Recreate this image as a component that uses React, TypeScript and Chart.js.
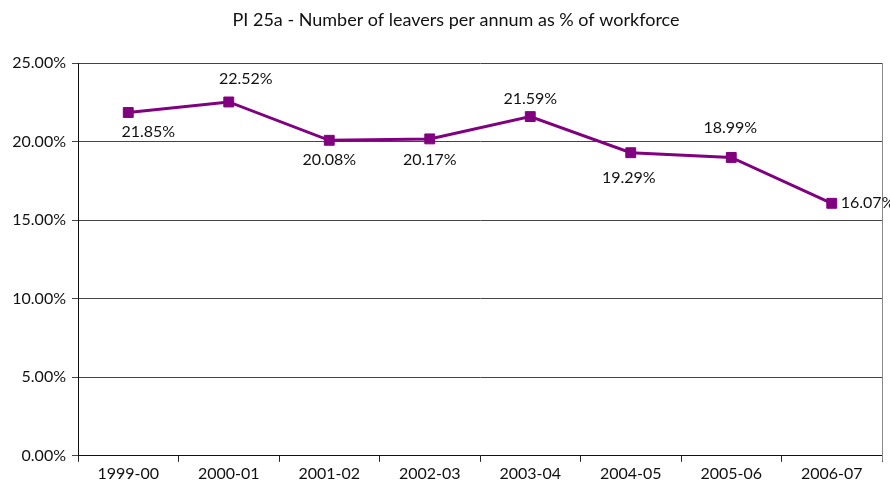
import React, { useEffect, useRef } from "react";
import { Chart, registerables } from "chart.js";

Chart.register(...registerables);

const TITLE = "PI 25a - Number of leavers per annum as % of workforce";
const categories = ["1999-00", "2000-01", "2001-02", "2002-03", "2003-04", "2004-05", "2005-06", "2006-07"];
const leaversPct = [21.85, 22.52, 20.08, 20.17, 21.59, 19.29, 18.99, 16.07];
const yTicks = [0, 5, 10, 15, 20, 25];

// label placement relative to each point (style config)
const labelPlacement = [
  { dx: 20, dy: 19, align: "center" },
  { dx: 17, dy: -23, align: "center" },
  { dx: 0, dy: 20, align: "center" },
  { dx: 0, dy: 21, align: "center" },
  { dx: 0, dy: -18, align: "center" },
  { dx: -2, dy: 25, align: "center" },
  { dx: -1, dy: -30, align: "center" },
  { dx: 9, dy: 0, align: "left" },
];

const FONT = "Lato, 'Noto Sans', sans-serif";

export default function App() {
  const ref = useRef<HTMLCanvasElement>(null);
  useEffect(() => {
    const canvas = ref.current!;
    const extras = {
      id: "extras",
      afterDraw(chart: any) {
        const ctx = chart.ctx;
        const area = chart.chartArea;
        ctx.save();
        // title
        ctx.fillStyle = "#111";
        ctx.font = `18px ${FONT}`;
        ctx.textAlign = "center";
        ctx.textBaseline = "middle";
        ctx.fillText(TITLE, 456, 20);
        // right border
        ctx.strokeStyle = "#888";
        ctx.lineWidth = 1;
        ctx.beginPath();
        ctx.moveTo(Math.round(area.right) + 0.5, area.top);
        ctx.lineTo(Math.round(area.right) + 0.5, area.bottom + 5);
        ctx.stroke();
        // data labels
        const meta = chart.getDatasetMeta(0);
        ctx.font = `16px ${FONT}`;
        ctx.fillStyle = "#111";
        ctx.textBaseline = "middle";
        meta.data.forEach((pt: any, i: number) => {
          const p = labelPlacement[i];
          ctx.textAlign = p.align;
          ctx.fillText(leaversPct[i].toFixed(2) + "%", pt.x + p.dx, pt.y + p.dy);
        });
        ctx.restore();
      },
    };
    const chart = new Chart(canvas, {
      type: "line",
      data: {
        labels: categories,
        datasets: [
          {
            data: leaversPct,
            borderColor: "#800080",
            backgroundColor: "#800080",
            borderWidth: 3,
            pointStyle: "rect",
            pointRadius: 7,
            pointBorderWidth: 1,
            pointBackgroundColor: "#800080",
            pointBorderColor: "#800080",
            tension: 0,
          },
        ],
      },
      options: {
        responsive: false,
        animation: false,
        layout: { padding: { top: 63, right: 5, left: 0, bottom: 0 } },
        plugins: { legend: { display: false }, title: { display: false }, tooltip: { enabled: false } },
        scales: {
          x: {
            offset: true,
            grid: { offset: true, drawOnChartArea: false, drawTicks: true, tickLength: 6, color: "#222" },
            border: { color: "#111", width: 1 },
            ticks: { color: "#111", font: { family: FONT, size: 16 }, padding: 2, maxRotation: 0 },
          },
          y: {
            min: 0,
            max: 25,
            afterBuildTicks: (scale: any) => {
              scale.ticks = yTicks.map((v) => ({ value: v }));
            },
            afterFit: (scale: any) => {
              scale.width = 78;
            },
            grid: { color: "#444", lineWidth: 1, tickLength: 6 },
            border: { color: "#111", width: 1 },
            ticks: {
              color: "#111",
              font: { family: FONT, size: 16 },
              padding: 6,
              callback: (v: any) => Number(v).toFixed(2) + "%",
            },
          },
        },
      },
      plugins: [extras],
    });
    return () => chart.destroy();
  }, []);
  return (
    <div style={{ position: "fixed", left: 0, top: 0, width: 890, height: 485, background: "#fff" }}>
      <canvas ref={ref} width={890} height={485} style={{ width: 890, height: 485 }} />
    </div>
  );
}
